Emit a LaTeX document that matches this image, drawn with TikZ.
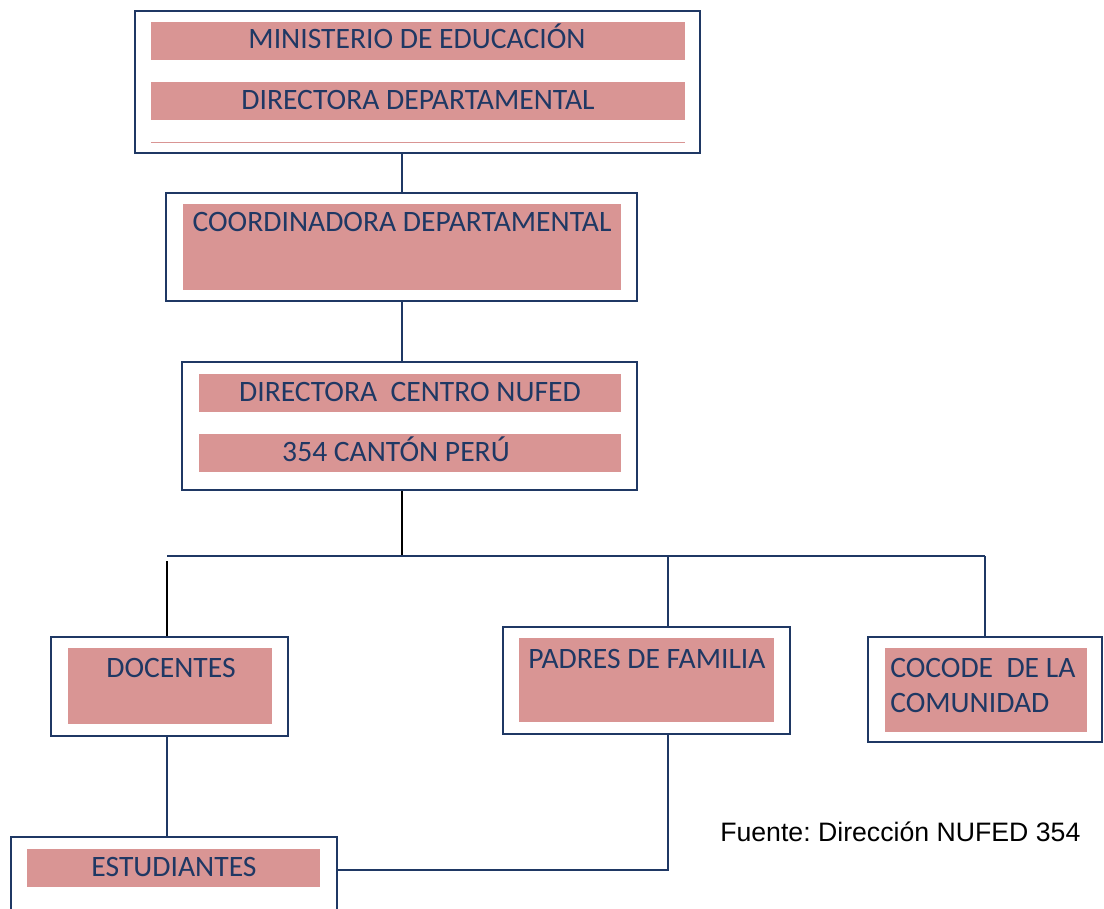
\documentclass[tikz,border=0pt]{standalone}
\usepackage{fontspec}
\setmainfont{Carlito}
\newfontfamily\arialf{Liberation Sans}
\usetikzlibrary{fit}
\definecolor{navy}{HTML}{1F3864}
\definecolor{rose}{HTML}{D99594}
\frenchspacing
\begin{document}
\begin{tikzpicture}[x=0.75pt,y=-0.75pt,
  outer/.style={draw=navy,line width=1.5pt,inner sep=0pt},
  pink/.style={fill=rose,inner sep=0pt},
  lbl/.style={font=\fontsize{22.2}{26}\selectfont,text=navy,anchor=base,inner sep=0pt},
  link/.style={draw=navy,line width=1.3pt},
  blink/.style={draw=black,line width=1.3pt}]
\useasboundingbox (0,0) rectangle (1104,909);

% top box
\node[outer,fit={(135,11)(700,153)}] (min) {};
\node[pink,fit={(151,22)(685,60)}] (minp) {};
\node[pink,fit={(151,82)(685,120)}] (dirdp) {};
\draw[rose,line width=0.6pt] (151,142) -- (685,142);
\node[lbl] (tmin) at (417,49) {MINISTERIO DE EDUCACIÓN};
\node[lbl] (tdird) at (418,110) {DIRECTORA DEPARTAMENTAL};

% coordinadora
\node[outer,fit={(166,193)(637,301)}] (coord) {};
\node[pink,fit={(183,204)(621,290)}] (coordp) {};
\node[lbl] (tcoord) at (402,232) {COORDINADORA DEPARTAMENTAL};

% directora centro
\node[outer,fit={(182,362)(637,490)}] (dir) {};
\node[pink,fit={(199,374)(621,412)}] (dirp1) {};
\node[pink,fit={(199,434)(621,472)}] (dirp2) {};
\node[lbl] (tdir1) at (410,402) {DIRECTORA\ \ CENTRO NUFED};
\node[lbl] (tdir2) at (396,461) {354 CANTÓN PERÚ};

% docentes
\node[outer,fit={(51,637)(288,736)}] (doc) {};
\node[pink,fit={(68,648)(272,724)}] (docp) {};
\node[lbl] (tdoc) at (171,677) {DOCENTES};

% padres
\node[outer,fit={(503,627)(790,734)}] (pad) {};
\node[pink,fit={(519,638)(774,722)}] (padp) {};
\node[lbl] (tpad) at (647,668) {PADRES DE FAMILIA};

% cocode
\node[outer,fit={(868,637)(1102,742)}] (coc) {};
\node[pink,fit={(885,648)(1087,732)}] (cocp) {};
\node[lbl,anchor=base west] (tcoc1) at (890,677) {COCODE\ \ DE LA};
\node[lbl,anchor=base west] (tcoc2) at (890,712) {COMUNIDAD};

% estudiantes
\node[outer,fit={(11,837)(337,930)}] (est) {};
\node[pink,fit={(27,849)(320,887)}] (estp) {};
\node[lbl] (test) at (174,876) {ESTUDIANTES};

% source
\node[font=\arialf\fontsize{20}{24}\selectfont,anchor=base west,inner sep=0pt] (src) at (720,841) {Fuente: Dirección NUFED 354};

% connectors
\coordinate (cx) at (402,0);
\coordinate (bar) at (402,556);
\coordinate (barL) at (167,556);
\coordinate (barR) at (985,556);
\coordinate (pl) at (668,556);
\coordinate (dtop) at (167,561);
\coordinate (corner) at (668,870);

\draw[link] (min.south -| cx) -- (coord.north -| cx);
\draw[link] (coord.south -| cx) -- (dir.north -| cx);
\draw[blink] (dir.south -| cx) -- (bar);
\draw[link] (barL) -- (barR);
\draw[blink] (dtop) -- (doc.north -| dtop);
\draw[link] (doc.south -| dtop) -- (est.north -| dtop);
\draw[link] (pl) -- (pad.north -| pl);
\draw[link] (pad.south -| pl) -- (corner) -- (est.east |- corner);
\draw[link] (barR) -- (coc.north -| barR);
\end{tikzpicture}
\end{document}
